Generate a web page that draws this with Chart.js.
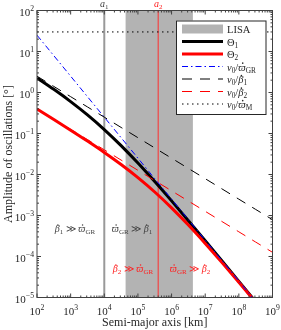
<!DOCTYPE html>
<html><head><meta charset="utf-8">
<script src="https://cdn.jsdelivr.net/npm/chart.js@4/dist/chart.umd.min.js"></script>
<style>html,body{margin:0;padding:0;background:#fff}#wrap{width:281px;height:330px;position:relative}</style>
</head><body><div id="wrap"><canvas id="c" width="281" height="330"></canvas></div>
<script>
// Semi-major axis [km] sample points (half-decade steps)
const semiMajorAxis = [1e2, 3.162e2, 1e3, 3.162e3, 1e4, 3.162e4, 1e5, 3.162e5, 1e6, 3.162e6, 1e7, 3.162e7, 1e8, 3.162e8, 1e9];
// Amplitude of oscillations [deg]
const theta1      = [2.273, 1.194, 0.6006, 0.2846, 0.125, 0.0506, 0.01899, 0.006712, 0.002273, 7.485e-4, 2.423e-4, 7.768e-5, 2.475e-5, 7.862e-6, 2.492e-6];
const theta2      = [0.3937, 0.2187, 0.1204, 0.06526, 0.03448, 0.01751, 0.0084, 0.003744, 0.001538, 5.85e-4, 2.087e-4, 7.115e-5, 2.353e-5, 7.637e-6, 2.452e-6];
const nuOverGR    = [25, 7.906, 2.5, 0.7906, 0.25, 0.07906, 0.025, 0.007906, 0.0025, 7.906e-4, 2.5e-4, 7.906e-5, 2.5e-5, 7.906e-6, 2.5e-6];
const nuOverBeta1 = [2.5, 1.406, 0.7906, 0.4446, 0.25, 0.1406, 0.07906, 0.04446, 0.025, 0.01406, 0.007906, 0.004446, 0.0025, 0.001406, 7.906e-4];
const nuOverBeta2 = [0.4, 0.2249, 0.1265, 0.07113, 0.04, 0.02249, 0.01265, 0.007113, 0.004, 0.002249, 0.001265, 7.113e-4, 4e-4, 2.249e-4, 1.265e-4];
const nuOverMAxis = [1e2, 1e9];
const nuOverM     = [30, 30];
const lisaBand = [4.3e4, 4.3e6];
const a1 = 1e4, a2 = 4e5;
const xTickExp = [2, 3, 4, 5, 6, 7, 8, 9];
const yTickExp = [-5, -4, -3, -2, -1, 0, 1, 2];

const FAM = '"Liberation Serif","DejaVu Serif",serif';
const pts = (xs, ys) => xs.map((x, i) => ({x, y: ys[i]}));

function rich(ctx, parts, x, y, align, size, color) {
  const fontFor = p => (p.it ? 'italic ' : '') + ((p.sub || p.sup) ? size * 0.7 : size) + 'px ' + FAM;
  let w = 0;
  parts.forEach(p => { ctx.font = fontFor(p); p.w = ctx.measureText(p.t).width; w += p.w + (p.gap || 0); });
  let cx = align === 'center' ? x - w / 2 : align === 'right' ? x - w : x;
  ctx.fillStyle = color; ctx.textBaseline = 'alphabetic'; ctx.textAlign = 'left';
  parts.forEach(p => {
    ctx.font = fontFor(p);
    const dy = p.sub ? size * 0.22 : p.sup ? -size * 0.42 : 0;
    ctx.fillText(p.t, cx, y + dy);
    if (p.dot) { ctx.beginPath(); ctx.arc(cx + p.w * 0.6, y - size * 0.7, size * 0.075, 0, Math.PI * 2); ctx.fill(); }
    cx += p.w + (p.gap || 0);
  });
  return w;
}
const nu0 = () => [{t: 'ν', it: true}, {t: '0', sub: true}, {t: '/'}];
const varpiGR = () => [{t: 'ϖ', it: true, dot: true}, {t: 'GR', sub: true}];
const beta = n => [{t: 'β', it: true, dot: true}, {t: String(n), sub: true}];
const gg = () => [{t: ' ≫ '}];

const bgPlugin = {
  id: 'bg',
  beforeDatasetsDraw(chart) {
    const {ctx, chartArea: a, scales: {x}} = chart;
    ctx.save();
    ctx.fillStyle = '#b3b3b3';
    const l = x.getPixelForValue(lisaBand[0]), r = x.getPixelForValue(lisaBand[1]);
    ctx.fillRect(l, a.top, r - l, a.bottom - a.top);
    let px = x.getPixelForValue(a1);
    ctx.strokeStyle = '#999999'; ctx.lineWidth = 2;
    ctx.beginPath(); ctx.moveTo(px, a.top); ctx.lineTo(px, a.bottom); ctx.stroke();
    px = x.getPixelForValue(a2);
    ctx.strokeStyle = '#ff3030'; ctx.lineWidth = 1;
    ctx.beginPath(); ctx.moveTo(px, a.top); ctx.lineTo(px, a.bottom); ctx.stroke();
    ctx.restore();
  },
  afterDraw(chart) {
    const {ctx, chartArea: a, scales: {x, y}} = chart;
    ctx.save();
    // axes box
    ctx.strokeStyle = '#404040'; ctx.lineWidth = 1;
    ctx.strokeRect(a.left, a.top, a.right - a.left, a.bottom - a.top);
    // ticks
    ctx.beginPath();
    for (let e = xTickExp[0]; e <= xTickExp[xTickExp.length - 1]; e++) {
      for (let m = 1; m <= 9; m++) {
        const v = m * Math.pow(10, e); if (v > 1e9) break;
        const p = x.getPixelForValue(v), L = m === 1 ? 4 : 2;
        ctx.moveTo(p, a.bottom); ctx.lineTo(p, a.bottom - L);
        ctx.moveTo(p, a.top); ctx.lineTo(p, a.top + L);
      }
    }
    for (let e = yTickExp[0]; e <= yTickExp[yTickExp.length - 1]; e++) {
      for (let m = 1; m <= 9; m++) {
        const v = m * Math.pow(10, e); if (v > 100) break;
        const p = y.getPixelForValue(v), L = m === 1 ? 4 : 2;
        ctx.moveTo(a.left, p); ctx.lineTo(a.left + L, p);
        ctx.moveTo(a.right, p); ctx.lineTo(a.right - L, p);
      }
    }
    ctx.stroke();
    const tc = '#262626';
    xTickExp.forEach(e => rich(ctx, [{t: '10'}, {t: String(e), sup: true}], x.getPixelForValue(Math.pow(10, e)), a.bottom + 17, 'center', 11, tc));
    yTickExp.forEach(e => rich(ctx, [{t: '10'}, {t: e < 0 ? '−' + (-e) : String(e), sup: true}], a.left - 3, y.getPixelForValue(Math.pow(10, e)) + 5, 'right', 11, tc));
    // axis titles
    ctx.fillStyle = tc; ctx.font = '12px ' + FAM; ctx.textAlign = 'center'; ctx.textBaseline = 'alphabetic';
    ctx.fillText('Semi-major axis [km]', (a.left + a.right) / 2, 326);
    ctx.save(); ctx.translate(12, (a.top + a.bottom) / 2); ctx.rotate(-Math.PI / 2);
    ctx.fillText('Amplitude of oscillations [°]', 0, 0); ctx.restore();
    // a1, a2 labels
    rich(ctx, [{t: 'a', it: true}, {t: '1', sub: true}], x.getPixelForValue(a1), 7, 'center', 10, '#404040');
    rich(ctx, [{t: 'a', it: true}, {t: '2', sub: true}], x.getPixelForValue(a2), 7, 'center', 10, '#ff2020');
    // regime annotations
    rich(ctx, [...beta(1), ...gg(), ...varpiGR()], 75, 232, 'center', 10, '#404040');
    rich(ctx, [...varpiGR(), ...gg(), ...beta(1)], 132, 232, 'center', 10, '#404040');
    rich(ctx, [...beta(2), ...gg(), ...varpiGR()], 133, 272, 'center', 10, '#ff2020');
    rich(ctx, [...varpiGR(), ...gg(), ...beta(2)], 190, 272, 'center', 10, '#ff2020');
    // legend
    const lx = 176, ly = 20.5, lw = 89.5, lh = 93.5;
    ctx.fillStyle = '#fff'; ctx.fillRect(lx, ly, lw, lh);
    ctx.strokeStyle = '#262626'; ctx.lineWidth = 1; ctx.strokeRect(lx + 0.5, ly + 0.5, lw, lh);
    const rows = [29, 41.5, 54, 66.5, 79, 91.5, 104];
    const x0 = 182, x1 = 223, tx = 227;
    ctx.fillStyle = '#b3b3b3'; ctx.fillRect(x0, rows[0] - 4.5, x1 - x0, 9);
    const ds = chart.data.datasets;
    [0, 1, 2, 3, 4, 5].forEach((k, i) => {
      const d = ds[k];
      ctx.strokeStyle = d.borderColor; ctx.lineWidth = d.borderWidth; ctx.setLineDash(d.borderDash || []);
      ctx.beginPath(); ctx.moveTo(x0, rows[i + 1]); ctx.lineTo(x1, rows[i + 1]); ctx.stroke();
    });
    ctx.setLineDash([]);
    const ls = 10.5, lc = '#262626';
    rich(ctx, [{t: 'LISA'}], tx, rows[0] + 4, 'left', ls, lc);
    rich(ctx, [{t: 'Θ'}, {t: '1', sub: true}], tx, rows[1] + 4, 'left', ls, lc);
    rich(ctx, [{t: 'Θ'}, {t: '2', sub: true}], tx, rows[2] + 4, 'left', ls, lc);
    rich(ctx, [...nu0(), ...varpiGR()], tx, rows[3] + 4, 'left', ls, lc);
    rich(ctx, [...nu0(), ...beta(1)], tx, rows[4] + 4, 'left', ls, lc);
    rich(ctx, [...nu0(), ...beta(2)], tx, rows[5] + 4, 'left', ls, lc);
    rich(ctx, [...nu0(), {t: 'ϖ', it: true, dot: true}, {t: 'M', sub: true}], tx, rows[6] + 4, 'left', ls, lc);
    ctx.restore();
  }
};

const common = {pointRadius: 0, fill: false, tension: 0, spanGaps: true};
new Chart(document.getElementById('c'), {
  type: 'line',
  data: {
    datasets: [
      {...common, label: 'Θ1', data: pts(semiMajorAxis, theta1), borderColor: '#000000', borderWidth: 3, order: 6, cubicInterpolationMode: 'monotone'},
      {...common, label: 'Θ2', data: pts(semiMajorAxis, theta2), borderColor: '#ff0000', borderWidth: 3, order: 5, cubicInterpolationMode: 'monotone'},
      {...common, label: 'ν0/ϖGR', data: pts(semiMajorAxis, nuOverGR), borderColor: '#0000ff', borderWidth: 1, borderDash: [6, 3, 1.5, 3], order: 4},
      {...common, label: 'ν0/β1', data: pts(semiMajorAxis, nuOverBeta1), borderColor: '#000000', borderWidth: 1, borderDash: [10, 8], order: 3},
      {...common, label: 'ν0/β2', data: pts(semiMajorAxis, nuOverBeta2), borderColor: '#ff0000', borderWidth: 1, borderDash: [10, 8], order: 2},
      {...common, label: 'ν0/ϖM', data: pts(nuOverMAxis, nuOverM), borderColor: '#000000', borderWidth: 1, borderDash: [1.5, 3.5], order: 1}
    ]
  },
  options: {
    responsive: false, animation: false, devicePixelRatio: 1,
    layout: {padding: {left: 37, right: 8.5, top: 10.5, bottom: 32.5}},
    plugins: {legend: {display: false}, tooltip: {enabled: false}},
    scales: {
      x: {type: 'logarithmic', min: 1e2, max: 1e9, display: false},
      y: {type: 'logarithmic', min: 1e-5, max: 1e2, display: false}
    }
  },
  plugins: [bgPlugin]
});
</script></body></html>
